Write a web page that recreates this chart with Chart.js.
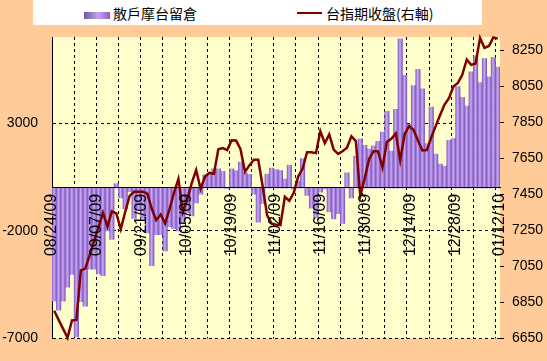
<!DOCTYPE html>
<html><head><meta charset="utf-8">
<script src="https://cdn.jsdelivr.net/npm/chart.js@4"></script>
<style>
html,body{margin:0;padding:0;background:#FFCC99;}
#wrap{position:relative;width:547px;height:361px;background:#FFCC99;overflow:hidden}
#c{position:absolute;left:0;top:0}
#legend{position:absolute;left:33px;top:0;width:449px;height:25px;background:#fff;font-family:"Noto Sans CJK TC","Noto Sans CJK SC",sans-serif;font-size:14px;color:#000}
.sw1{position:absolute;left:51px;top:12px;width:26px;height:7px;background:linear-gradient(to right,#6E5A9A,#C8A0F8 55%,#8A66BE)}
.sw2{position:absolute;left:264px;top:12px;width:25px;height:2px;background:#800000}
.t{position:absolute;top:5px;line-height:16px;white-space:nowrap}
</style></head>
<body>
<div id="wrap">
<canvas id="c" width="547" height="361"></canvas>
<div id="legend"><div class="sw1"></div><div class="t" style="left:80px">散戶摩台留倉</div><div class="sw2"></div><div class="t" style="left:293px">台指期收盤(右軸)</div></div>
</div>
<script>
const categories = ['08/24/09','08/25/09','08/26/09','08/27/09','08/28/09','08/31/09','09/01/09','09/02/09','09/03/09','09/04/09',
'09/07/09','09/08/09','09/09/09','09/10/09','09/11/09','09/14/09','09/15/09','09/16/09','09/17/09','09/18/09',
'09/21/09','09/22/09','09/23/09','09/24/09','09/25/09','09/28/09','09/29/09','09/30/09','10/01/09','10/02/09',
'10/05/09','10/06/09','10/07/09','10/08/09','10/09/09','10/12/09','10/13/09','10/14/09','10/15/09','10/16/09',
'10/19/09','10/20/09','10/21/09','10/22/09','10/23/09','10/26/09','10/27/09','10/28/09','10/29/09','10/30/09',
'11/02/09','11/03/09','11/04/09','11/05/09','11/06/09','11/09/09','11/10/09','11/11/09','11/12/09','11/13/09',
'11/16/09','11/17/09','11/18/09','11/19/09','11/20/09','11/23/09','11/24/09','11/25/09','11/26/09','11/27/09',
'11/30/09','12/01/09','12/02/09','12/03/09','12/04/09','12/07/09','12/08/09','12/09/09','12/10/09','12/11/09',
'12/14/09','12/15/09','12/16/09','12/17/09','12/18/09','12/21/09','12/22/09','12/23/09','12/24/09','12/25/09',
'12/28/09','12/29/09','12/30/09','12/31/09','01/04/10','01/05/10','01/06/10','01/07/10','01/08/10','01/11/10',
'01/12/10'];

const retailOI = [-5260,-5680,-5260,-4610,-4020,-6920,-5290,-5490,-3780,-3780,
-4000,-4080,-2000,-2400,200,-470,-970,-180,-1420,-970,
-1420,-2100,-3610,-2180,-2180,-2930,-1800,-1900,-2000,-1600,
-1150,-1300,-700,-300,600,620,880,880,770,-30,
880,800,1190,690,620,-290,-1600,-740,640,910,
850,800,400,1050,-50,300,1360,-350,-950,-1380,
-200,-50,-1120,-1450,-1200,-1650,700,-470,1470,2270,
1970,1800,1950,2160,2590,3550,1700,3640,6920,5220,
2950,4740,5500,4590,2050,3750,1570,1100,1010,2200,
2280,4700,4200,3790,5380,6130,4880,6000,5150,6060,
5600];

const taiexClose = [6805,6754,6704,6655,6751,6754,7029,7039,7114,7191,
7269,7348,7273,7357,7346,7258,7353,7443,7465,7466,
7466,7455,7371,7308,7339,7290,7369,7460,7537,7352,
7423,7513,7586,7482,7550,7571,7566,7702,7708,7697,
7751,7750,7702,7576,7612,7643,7643,7495,7334,7289,
7283,7280,7438,7415,7460,7550,7594,7685,7685,7680,
7801,7735,7784,7700,7676,7690,7710,7774,7747,7443,
7540,7648,7691,7690,7600,7742,7760,7790,7641,7785,
7830,7810,7750,7695,7697,7767,7830,7892,7950,7985,
8050,8070,8115,8200,8170,8178,8320,8265,8275,8322,
8316];

const leftTicks = [-7000, -2000, 3000];
const rightTicks = [6650, 6850, 7050, 7250, 7450, 7650, 7850, 8050, 8250];
const seriesNames = ['散戶摩台留倉', '台指期收盤(右軸)'];

const FONT = {family: '"Liberation Sans", Arial, sans-serif', size: 14};
const XFONT = {family: '"Liberation Sans", Arial, sans-serif', size: 16};

function barFill(ctx) {
  const chart = ctx.chart;
  const xs = chart.scales && chart.scales.x;
  if (!xs || ctx.dataIndex === undefined || !xs.width) return '#A67FE0';
  const cx = xs.getPixelForValue(ctx.dataIndex);
  const w = xs.width / categories.length;
  const g = chart.ctx.createLinearGradient(cx - w / 2, 0, cx + w / 2, 0);
  g.addColorStop(0, '#8460C0');
  g.addColorStop(0.45, '#CDAAFB');
  g.addColorStop(1, '#7E58B8');
  return g;
}

const bgPlugin = {
  id: 'bg',
  beforeDraw(chart) {
    const {ctx, chartArea: a} = chart;
    ctx.save();
    ctx.fillStyle = '#FFFFCC';
    ctx.fillRect(a.left, a.top, a.right - a.left, a.bottom - a.top);
    ctx.restore();
  }
};

new Chart(document.getElementById('c'), {
  data: {
    labels: categories,
    datasets: [
      {type: 'line', label: seriesNames[1], data: taiexClose, yAxisID: 'y2', xAxisID: 'x',
       borderColor: '#800000', borderWidth: 2.5, pointRadius: 0, tension: 0, order: 0, clip: 4},
      {type: 'bar', label: seriesNames[0], data: retailOI, yAxisID: 'y', xAxisID: 'x',
       backgroundColor: barFill, borderWidth: 0, barPercentage: 1, categoryPercentage: 1, order: 1}
    ]
  },
  options: {
    responsive: false, animation: false, devicePixelRatio: 1,
    layout: {padding: {top: 37, bottom: 14, left: 0, right: 0}},
    plugins: {legend: {display: false}, tooltip: {enabled: false}},
    scales: {
      x: {type: 'category', position: {y: 0}, offset: true,
          grid: {offset: true, drawTicks: false, lineWidth: 1,
                 color: c => (c.index % 5 === 0 || c.index === categories.length) ? '#000' : 'rgba(0,0,0,0)'},
          border: {display: false, dash: [3, 3]},
          ticks: {display: false}},
      x2: {type: 'category', position: {y: 0}, offset: false,
           grid: {display: false, drawTicks: false},
           border: {display: true, color: '#000', width: 1, z: 2},
           ticks: {z: 2, autoSkip: false, minRotation: 90, maxRotation: 90, padding: 6, font: XFONT, color: '#000',
                   callback: (v, i) => (i % 10 === 0 ? categories[i] : '')}},
      y: {position: 'left', min: -7000, max: 7000,
          afterBuildTicks: s => { s.ticks = leftTicks.map(v => ({value: v})); },
          afterFit: s => { s.width = 52; },
          grid: {color: '#000', lineWidth: 1, drawTicks: false},
          border: {display: true, color: '#000', width: 1, dash: [3, 3]},
          ticks: {padding: 14, font: FONT, color: '#000', callback: v => String(v)}},
      y2: {position: 'right', min: 6650, max: 8325,
           afterBuildTicks: s => { s.ticks = rightTicks.map(v => ({value: v})); },
           afterFit: s => { s.width = 47; },
           grid: {drawOnChartArea: false, drawTicks: true, tickLength: 4, tickColor: '#000'},
           border: {display: false},
           ticks: {padding: 8, font: FONT, color: '#000', callback: v => String(v)}}
    }
  },
  plugins: [bgPlugin]
});
</script>
</body></html>
